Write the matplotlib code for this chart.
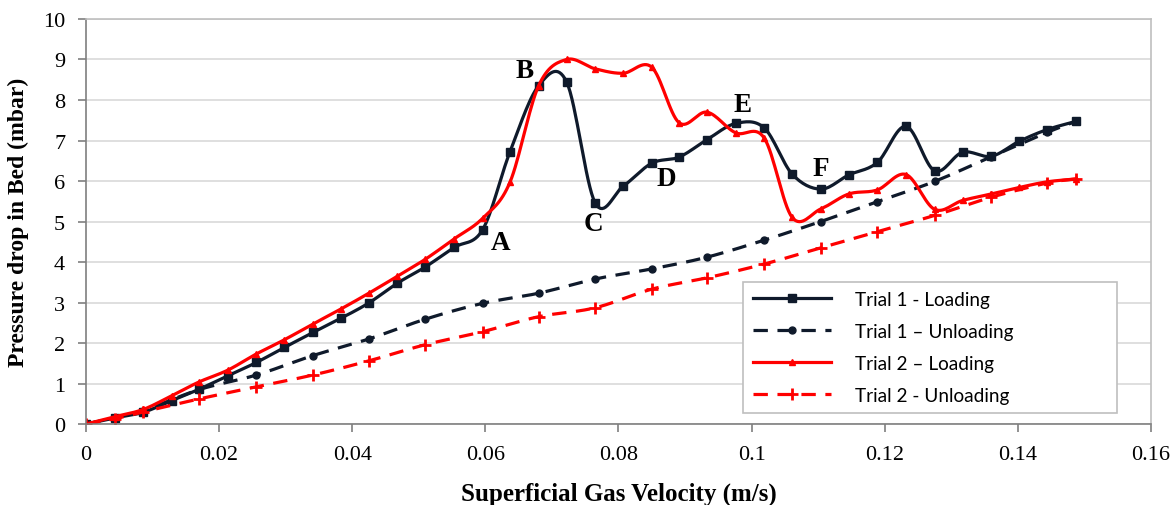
import numpy as np
import matplotlib.pyplot as plt

plt.rcParams['font.family'] = ['Liberation Serif', 'DejaVu Serif']

# Superficial gas velocity (m/s) for the loading runs
x_load = [0, 0.0043, 0.0086, 0.0129, 0.0170, 0.0213, 0.0256, 0.0298, 0.0341, 0.0383,
          0.0425, 0.0468, 0.0510, 0.0553, 0.0596, 0.0637, 0.0680, 0.0722, 0.0765, 0.0807,
          0.0850, 0.0891, 0.0933, 0.0976, 0.1019, 0.1061, 0.1104, 0.1146, 0.1189, 0.1232,
          0.1275, 0.1317, 0.1360, 0.1402, 0.1444, 0.1487]
trial1_load = [0, 0.15, 0.29, 0.58, 0.86, 1.19, 1.52, 1.89, 2.26, 2.61,
               2.99, 3.48, 3.88, 4.36, 4.80, 6.72, 8.35, 8.45, 5.46, 5.87,
               6.44, 6.59, 7.02, 7.42, 7.31, 6.17, 5.80, 6.15, 6.46, 7.35,
               6.25, 6.71, 6.61, 6.98, 7.27, 7.47]
trial2_load = [0, 0.18, 0.36, 0.70, 1.04, 1.33, 1.73, 2.08, 2.47, 2.84,
               3.23, 3.65, 4.07, 4.57, 5.08, 5.97, 8.35, 9.00, 8.77, 8.66,
               8.81, 7.44, 7.70, 7.19, 7.06, 5.10, 5.31, 5.68, 5.78, 6.16,
               5.30, 5.52, 5.68, 5.84, 5.98, 6.05]

# unloading runs use every second velocity step
x_unload = [0, 0.0043, 0.0086, 0.0170, 0.0256, 0.0341, 0.0425, 0.0510, 0.0596, 0.0680,
            0.0765, 0.0850, 0.0933, 0.1019, 0.1104, 0.1189, 0.1275, 0.1360, 0.1444, 0.1487]
trial1_unload = [0, 0.15, 0.33, 0.85, 1.21, 1.69, 2.10, 2.59, 2.98, 3.23,
                 3.58, 3.83, 4.12, 4.54, 5.00, 5.49, 5.99, 6.60, 7.20, 7.47]
trial2_unload = [0, 0.13, 0.30, 0.62, 0.92, 1.21, 1.56, 1.96, 2.28, 2.65,
                 2.87, 3.33, 3.61, 3.95, 4.35, 4.75, 5.15, 5.60, 5.95, 6.05]

# regime labels
point_labels = ['A', 'B', 'C', 'D', 'E', 'F']
label_x = [0.0623, 0.0659, 0.0763, 0.0872, 0.0986, 0.1104]
label_y = [4.49, 8.72, 4.96, 6.05, 7.90, 6.30]

navy = '#0f1a2b'
red = '#ff0000'


def smooth(xs, ys, n=16):
    # Catmull-Rom through the points, similar to Excel's smoothed line
    p = np.column_stack([xs, ys]).astype(float)
    p = np.vstack([p[0], p, p[-1]])
    out = []
    t = np.linspace(0, 1, n, endpoint=False)[:, None]
    for i in range(1, len(p) - 2):
        p0, p1, p2, p3 = p[i - 1], p[i], p[i + 1], p[i + 2]
        m1 = (p2 - p0) / 2
        m2 = (p3 - p1) / 2
        h00 = 2 * t**3 - 3 * t**2 + 1
        h10 = t**3 - 2 * t**2 + t
        h01 = -2 * t**3 + 3 * t**2
        h11 = t**3 - t**2
        out.append(h00 * p1 + h10 * m1 + h01 * p2 + h11 * m2)
    out.append(p[-2][None, :])
    s = np.vstack(out)
    return s[:, 0], s[:, 1]


fig = plt.figure(figsize=(11.76, 5.06), dpi=100)
ax = fig.add_axes([0.0731, 0.16, 0.9056, 0.8005])

series = [
    (x_load, trial1_load, navy, '-', 's', 5.5, 'Trial 1 - Loading'),
    (x_unload, trial1_unload, navy, (0, (4.5, 3)), 'o', 5, 'Trial 1 \u2013 Unloading'),
    (x_load, trial2_load, red, '-', '^', 5, 'Trial 2 \u2013 Loading'),
    (x_unload, trial2_unload, red, (0, (4.5, 3)), '+', 8, 'Trial 2 - Unloading'),
]
handles = []
for xs, ys, col, ls, mk, ms, lab in series:
    sx, sy = smooth(xs, ys)
    ax.plot(sx, sy, color=col, ls=ls, lw=2.3, solid_capstyle='butt')
    ax.plot(xs, ys, ls='none', marker=mk, ms=ms, color=col, mew=2 if mk == '+' else 1)
    h, = ax.plot([], [], color=col, ls=ls, lw=2.3, marker=mk, ms=ms,
                 mew=2 if mk == '+' else 1, label=lab)
    handles.append(h)

for lab, lx, ly in zip(point_labels, label_x, label_y):
    ax.text(lx, ly, lab, ha='center', va='center', fontsize=19.5,
            fontweight='bold', color='black')

ax.set_xlim(0, 0.16)
ax.set_ylim(0, 10)
ax.set_xticks(np.arange(0, 0.161, 0.02))
ax.set_xticklabels(['0', '0.02', '0.04', '0.06', '0.08', '0.1', '0.12', '0.14', '0.16'])
ax.set_yticks(range(0, 11))
ax.grid(axis='y', color='#d9d9d9', lw=1.2)
ax.set_axisbelow(True)

for s in ['left', 'bottom']:
    ax.spines[s].set_color('#7f7f7f')
    ax.spines[s].set_linewidth(1.2)
for s in ['top', 'right']:
    ax.spines[s].set_color('#bfbfbf')
    ax.spines[s].set_linewidth(1.2)
ax.tick_params(direction='out', length=6, color='#7f7f7f', width=1.2,
               labelsize=16, pad=9)

ax.set_xlabel('Superficial Gas Velocity (m/s)', fontweight='bold',
              fontsize=18, labelpad=13)
ax.set_ylabel('Pressure drop in Bed (mbar)', fontweight='bold',
              fontsize=17, labelpad=10)

leg = ax.legend(handles=handles, loc='lower left',
                bbox_to_anchor=(0.617, 0.027, 0.351, 0.336), mode='expand',
                borderaxespad=0,
                prop={'family': 'Lato', 'size': 13.7}, handlelength=4.1,
                handletextpad=1.3, labelspacing=0.78, borderpad=0.5,
                fancybox=False, framealpha=1, edgecolor='#bfbfbf')
leg.get_frame().set_linewidth(1.2)

fig.savefig('out.png', dpi=100)
